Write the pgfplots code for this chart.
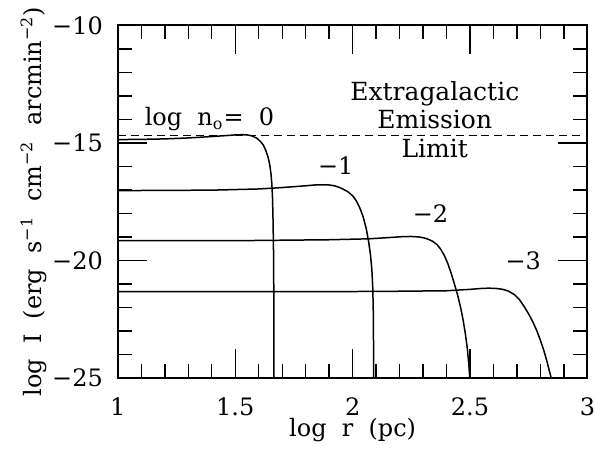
\documentclass[border=0pt]{standalone}
\usepackage{fontspec}
\setmainfont{DejaVu Serif}
\usepackage{pgfplots}
\pgfplotsset{compat=1.18}
\usetikzlibrary{calc}
\newcommand{\sps}[1]{\textsuperscript{#1}}
\begin{document}
\begin{tikzpicture}
  \begin{axis}[
      scale only axis,
      width=235pt, height=176.5pt,
      xmin=1, xmax=3, ymin=-25, ymax=-10,
      xtick={1,1.5,2,2.5,3}, xticklabels={1,1.5,2,2.5,3},
      minor x tick num=4,
      ytick={-25,-20,-15,-10}, yticklabels={−25,−20,−15,−10},
      minor y tick num=4,
      tick align=inside,
      major tick length=14.5pt, minor tick length=7pt,
      axis line style={line width=0.9pt},
      every tick/.style={line width=0.7pt, black},
      tick label style={font=\fontsize{12}{14}\selectfont},
      xticklabel style={anchor=base, yshift=-19pt, inner sep=0pt},
      yticklabel style={xshift=-4pt},
      label style={font=\fontsize{12}{14}\selectfont},
      xlabel={log\ \ r\ \ (pc)},
      ylabel={log\ \ I\ \ (erg\ \ s\sps{−1}\ \ cm\sps{−2}\ \ arcmin\sps{−2})},
      xlabel style={at={(rel axis cs:0.5,0)}, anchor=base, yshift=-29.5pt, inner sep=0pt},
      ylabel style={yshift=-4pt},
    ]
    \coordinate (ll) at (rel axis cs:0,0);
    \coordinate (ur) at (rel axis cs:1,1);

    % extragalactic emission limit
    \addplot[black, line width=0.7pt, dash pattern=on 4pt off 2.5pt] coordinates {(1,-14.68) (2.97,-14.68)};

    % log n0 = 0
    \addplot[black, line width=0.75pt] coordinates {
      (1.00,-14.86) (1.10,-14.85) (1.20,-14.83) (1.30,-14.79) (1.40,-14.73)
      (1.46,-14.69) (1.50,-14.66) (1.53,-14.65) (1.55,-14.66) (1.57,-14.70)
      (1.59,-14.79) (1.60,-14.87) (1.61,-14.97) (1.62,-15.10) (1.63,-15.32)
      (1.64,-15.62) (1.647,-15.93) (1.652,-16.3) (1.656,-16.75) (1.659,-17.4)
      (1.661,-18.3) (1.663,-19.6) (1.664,-21) (1.664,-25)
    };
    % log n0 = -1
    \addplot[black, line width=0.75pt] coordinates {
      (1.00,-17.03) (1.20,-17.02) (1.40,-17.01) (1.60,-16.96) (1.70,-16.90)
      (1.78,-16.84) (1.84,-16.79) (1.87,-16.78) (1.90,-16.79) (1.92,-16.82)
      (1.94,-16.88) (1.96,-16.97) (1.98,-17.08) (2.00,-17.25) (2.015,-17.45)
      (2.03,-17.75) (2.045,-18.15) (2.058,-18.65) (2.068,-19.19) (2.076,-19.75)
      (2.082,-20.4) (2.086,-21.2) (2.088,-22.2) (2.089,-23.5) (2.090,-25)
    };
    % log n0 = -2
    \addplot[black, line width=0.75pt] coordinates {
      (1.00,-19.16) (1.50,-19.16) (1.90,-19.12) (2.07,-19.08) (2.15,-19.03)
      (2.21,-18.99) (2.25,-18.98) (2.28,-19.00) (2.30,-19.03) (2.32,-19.09)
      (2.34,-19.18) (2.36,-19.33) (2.375,-19.52) (2.39,-19.78) (2.405,-20.12)
      (2.42,-20.55) (2.435,-21.05) (2.448,-21.5) (2.46,-22.0) (2.47,-22.5)
      (2.48,-23.1) (2.488,-23.7) (2.494,-24.3) (2.499,-25)
    };
    % log n0 = -3
    \addplot[black, line width=0.75pt] coordinates {
      (1.00,-21.33) (1.50,-21.33) (2.10,-21.32) (2.40,-21.29) (2.50,-21.23)
      (2.55,-21.19) (2.58,-21.18) (2.61,-21.19) (2.64,-21.23) (2.665,-21.31)
      (2.69,-21.46) (2.71,-21.66) (2.73,-21.95) (2.75,-22.28) (2.767,-22.6)
      (2.785,-23.0) (2.80,-23.4) (2.815,-23.85) (2.828,-24.3) (2.838,-24.7)
      (2.846,-25)
    };

    \node[font=\fontsize{12}{14}\selectfont] at (axis cs:1.39,-14.0) {log\ \ n\textsubscript{o}=\ \ 0};
    \node[font=\fontsize{12}{14}\selectfont] at (axis cs:1.928,-15.96) {−1};
    \node[font=\fontsize{12}{14}\selectfont] at (axis cs:2.332,-18.02) {−2};
    \node[font=\fontsize{12}{14}\selectfont] at (axis cs:2.727,-20.0) {−3};
    \node[font=\fontsize{12.5}{14.3}\selectfont, align=center] at (axis cs:2.35,-14.0) {Extragalactic\\Emission\\Limit};
  \end{axis}
  \path[use as bounding box] ($(ll)+(-59pt,-35.5pt)$) rectangle ($(ur)+(3.5pt,12pt)$);
\end{tikzpicture}
\end{document}
